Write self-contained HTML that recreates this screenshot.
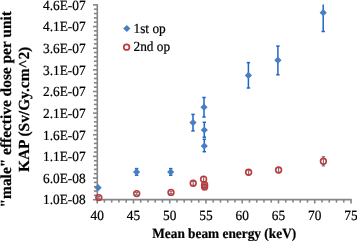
<!DOCTYPE html><html><head><meta charset="utf-8"><style>html,body{margin:0;padding:0;background:#fff;width:357px;height:241px;overflow:hidden}svg{display:block;will-change:transform}text{font-family:"Liberation Serif",serif;text-rendering:geometricPrecision;stroke:#000;stroke-width:0.2px}</style></head><body>
<svg width="357" height="241" viewBox="0 0 357 241">
<rect width="357" height="241" fill="#fff"/>
<g font-weight="bold" font-size="15.4" fill="#000" text-anchor="middle">
<text transform="translate(11.1,109.3) rotate(-90)">"male" effective dose per unit</text>
<text transform="translate(28.9,109.4) rotate(-90)">KAP (Sv/Gy.cm^2)</text>
</g>
<g font-size="13.33" fill="#000" text-anchor="end">
<text transform="translate(85.6,9.65) scale(1,1.05)">4.6E-07</text>
<text transform="translate(85.6,31.29) scale(1,1.05)">4.1E-07</text>
<text transform="translate(85.6,52.94) scale(1,1.05)">3.6E-07</text>
<text transform="translate(85.6,74.58) scale(1,1.05)">3.1E-07</text>
<text transform="translate(85.6,96.23) scale(1,1.05)">2.6E-07</text>
<text transform="translate(85.6,117.87) scale(1,1.05)">2.1E-07</text>
<text transform="translate(85.6,139.52) scale(1,1.05)">1.6E-07</text>
<text transform="translate(85.6,161.16) scale(1,1.05)">1.1E-07</text>
<text transform="translate(85.6,182.81) scale(1,1.05)">6.0E-08</text>
<text transform="translate(85.6,204.45) scale(1,1.05)">1.0E-08</text>
</g>
<g font-size="13.33" fill="#000" text-anchor="middle">
<text transform="translate(97.20,220.4) scale(1,1.05)">40</text>
<text transform="translate(133.46,220.4) scale(1,1.05)">45</text>
<text transform="translate(169.71,220.4) scale(1,1.05)">50</text>
<text transform="translate(205.97,220.4) scale(1,1.05)">55</text>
<text transform="translate(242.23,220.4) scale(1,1.05)">60</text>
<text transform="translate(278.49,220.4) scale(1,1.05)">65</text>
<text transform="translate(314.74,220.4) scale(1,1.05)">70</text>
<text transform="translate(351.00,220.4) scale(1,1.05)">75</text>
</g>
<text transform="translate(224.2,238.1) scale(1,1.05)" font-size="13.33" font-weight="bold" text-anchor="middle" fill="#000">Mean beam energy (keV)</text>
<g stroke="#858585" stroke-width="1.6" fill="none">
<line x1="97.3" y1="4.20" x2="97.3" y2="200.30"/>
<line x1="96.60" y1="199.6" x2="351.70" y2="199.6"/>
<line x1="93.00" y1="199.70" x2="97.3" y2="199.70"/>
<line x1="93.90" y1="195.37" x2="97.3" y2="195.37"/>
<line x1="93.90" y1="191.04" x2="97.3" y2="191.04"/>
<line x1="93.90" y1="186.71" x2="97.3" y2="186.71"/>
<line x1="93.90" y1="182.38" x2="97.3" y2="182.38"/>
<line x1="93.00" y1="178.06" x2="97.3" y2="178.06"/>
<line x1="93.90" y1="173.73" x2="97.3" y2="173.73"/>
<line x1="93.90" y1="169.40" x2="97.3" y2="169.40"/>
<line x1="93.90" y1="165.07" x2="97.3" y2="165.07"/>
<line x1="93.90" y1="160.74" x2="97.3" y2="160.74"/>
<line x1="93.00" y1="156.41" x2="97.3" y2="156.41"/>
<line x1="93.90" y1="152.08" x2="97.3" y2="152.08"/>
<line x1="93.90" y1="147.75" x2="97.3" y2="147.75"/>
<line x1="93.90" y1="143.42" x2="97.3" y2="143.42"/>
<line x1="93.90" y1="139.10" x2="97.3" y2="139.10"/>
<line x1="93.00" y1="134.77" x2="97.3" y2="134.77"/>
<line x1="93.90" y1="130.44" x2="97.3" y2="130.44"/>
<line x1="93.90" y1="126.11" x2="97.3" y2="126.11"/>
<line x1="93.90" y1="121.78" x2="97.3" y2="121.78"/>
<line x1="93.90" y1="117.45" x2="97.3" y2="117.45"/>
<line x1="93.00" y1="113.12" x2="97.3" y2="113.12"/>
<line x1="93.90" y1="108.79" x2="97.3" y2="108.79"/>
<line x1="93.90" y1="104.46" x2="97.3" y2="104.46"/>
<line x1="93.90" y1="100.14" x2="97.3" y2="100.14"/>
<line x1="93.90" y1="95.81" x2="97.3" y2="95.81"/>
<line x1="93.00" y1="91.48" x2="97.3" y2="91.48"/>
<line x1="93.90" y1="87.15" x2="97.3" y2="87.15"/>
<line x1="93.90" y1="82.82" x2="97.3" y2="82.82"/>
<line x1="93.90" y1="78.49" x2="97.3" y2="78.49"/>
<line x1="93.90" y1="74.16" x2="97.3" y2="74.16"/>
<line x1="93.00" y1="69.83" x2="97.3" y2="69.83"/>
<line x1="93.90" y1="65.50" x2="97.3" y2="65.50"/>
<line x1="93.90" y1="61.18" x2="97.3" y2="61.18"/>
<line x1="93.90" y1="56.85" x2="97.3" y2="56.85"/>
<line x1="93.90" y1="52.52" x2="97.3" y2="52.52"/>
<line x1="93.00" y1="48.19" x2="97.3" y2="48.19"/>
<line x1="93.90" y1="43.86" x2="97.3" y2="43.86"/>
<line x1="93.90" y1="39.53" x2="97.3" y2="39.53"/>
<line x1="93.90" y1="35.20" x2="97.3" y2="35.20"/>
<line x1="93.90" y1="30.87" x2="97.3" y2="30.87"/>
<line x1="93.00" y1="26.54" x2="97.3" y2="26.54"/>
<line x1="93.90" y1="22.22" x2="97.3" y2="22.22"/>
<line x1="93.90" y1="17.89" x2="97.3" y2="17.89"/>
<line x1="93.90" y1="13.56" x2="97.3" y2="13.56"/>
<line x1="93.90" y1="9.23" x2="97.3" y2="9.23"/>
<line x1="93.00" y1="4.90" x2="97.3" y2="4.90"/>
<line x1="97.20" y1="199.6" x2="97.20" y2="203.40"/>
<line x1="104.45" y1="199.6" x2="104.45" y2="202.60"/>
<line x1="111.70" y1="199.6" x2="111.70" y2="202.60"/>
<line x1="118.95" y1="199.6" x2="118.95" y2="202.60"/>
<line x1="126.21" y1="199.6" x2="126.21" y2="202.60"/>
<line x1="133.46" y1="199.6" x2="133.46" y2="203.40"/>
<line x1="140.71" y1="199.6" x2="140.71" y2="202.60"/>
<line x1="147.96" y1="199.6" x2="147.96" y2="202.60"/>
<line x1="155.21" y1="199.6" x2="155.21" y2="202.60"/>
<line x1="162.46" y1="199.6" x2="162.46" y2="202.60"/>
<line x1="169.71" y1="199.6" x2="169.71" y2="203.40"/>
<line x1="176.97" y1="199.6" x2="176.97" y2="202.60"/>
<line x1="184.22" y1="199.6" x2="184.22" y2="202.60"/>
<line x1="191.47" y1="199.6" x2="191.47" y2="202.60"/>
<line x1="198.72" y1="199.6" x2="198.72" y2="202.60"/>
<line x1="205.97" y1="199.6" x2="205.97" y2="203.40"/>
<line x1="213.22" y1="199.6" x2="213.22" y2="202.60"/>
<line x1="220.47" y1="199.6" x2="220.47" y2="202.60"/>
<line x1="227.73" y1="199.6" x2="227.73" y2="202.60"/>
<line x1="234.98" y1="199.6" x2="234.98" y2="202.60"/>
<line x1="242.23" y1="199.6" x2="242.23" y2="203.40"/>
<line x1="249.48" y1="199.6" x2="249.48" y2="202.60"/>
<line x1="256.73" y1="199.6" x2="256.73" y2="202.60"/>
<line x1="263.98" y1="199.6" x2="263.98" y2="202.60"/>
<line x1="271.23" y1="199.6" x2="271.23" y2="202.60"/>
<line x1="278.49" y1="199.6" x2="278.49" y2="203.40"/>
<line x1="285.74" y1="199.6" x2="285.74" y2="202.60"/>
<line x1="292.99" y1="199.6" x2="292.99" y2="202.60"/>
<line x1="300.24" y1="199.6" x2="300.24" y2="202.60"/>
<line x1="307.49" y1="199.6" x2="307.49" y2="202.60"/>
<line x1="314.74" y1="199.6" x2="314.74" y2="203.40"/>
<line x1="321.99" y1="199.6" x2="321.99" y2="202.60"/>
<line x1="329.25" y1="199.6" x2="329.25" y2="202.60"/>
<line x1="336.50" y1="199.6" x2="336.50" y2="202.60"/>
<line x1="343.75" y1="199.6" x2="343.75" y2="202.60"/>
<line x1="351.00" y1="199.6" x2="351.00" y2="203.40"/>
</g>
<g stroke="#6f7a86" stroke-width="1.2" fill="none">
<line x1="98.8" y1="196.40" x2="98.8" y2="198.80"/>
<line x1="97.10" y1="196.40" x2="100.50" y2="196.40"/>
<line x1="97.10" y1="198.80" x2="100.50" y2="198.80"/>
<line x1="136.7" y1="192.40" x2="136.7" y2="194.80"/>
<line x1="135.00" y1="192.40" x2="138.40" y2="192.40"/>
<line x1="135.00" y1="194.80" x2="138.40" y2="194.80"/>
<line x1="171.0" y1="191.20" x2="171.0" y2="193.60"/>
<line x1="169.30" y1="191.20" x2="172.70" y2="191.20"/>
<line x1="169.30" y1="193.60" x2="172.70" y2="193.60"/>
<line x1="193.2" y1="181.30" x2="193.2" y2="185.30"/>
<line x1="191.50" y1="181.30" x2="194.90" y2="181.30"/>
<line x1="191.50" y1="185.30" x2="194.90" y2="185.30"/>
<line x1="203.6" y1="176.70" x2="203.6" y2="181.70"/>
<line x1="201.90" y1="176.70" x2="205.30" y2="176.70"/>
<line x1="201.90" y1="181.70" x2="205.30" y2="181.70"/>
<line x1="204.6" y1="183.80" x2="204.6" y2="185.80"/>
<line x1="202.90" y1="183.80" x2="206.30" y2="183.80"/>
<line x1="202.90" y1="185.80" x2="206.30" y2="185.80"/>
<line x1="204.6" y1="185.70" x2="204.6" y2="188.50"/>
<line x1="202.90" y1="185.70" x2="206.30" y2="185.70"/>
<line x1="202.90" y1="188.50" x2="206.30" y2="188.50"/>
<line x1="248.6" y1="170.00" x2="248.6" y2="174.60"/>
<line x1="246.90" y1="170.00" x2="250.30" y2="170.00"/>
<line x1="246.90" y1="174.60" x2="250.30" y2="174.60"/>
<line x1="278.6" y1="167.50" x2="278.6" y2="172.50"/>
<line x1="276.90" y1="167.50" x2="280.30" y2="167.50"/>
<line x1="276.90" y1="172.50" x2="280.30" y2="172.50"/>
<line x1="323.4" y1="156.70" x2="323.4" y2="165.90"/>
<line x1="321.70" y1="156.70" x2="325.10" y2="156.70"/>
<line x1="321.70" y1="165.90" x2="325.10" y2="165.90"/>
</g>
<g stroke="#c0393b" stroke-width="1.6" fill="none">
<circle cx="98.8" cy="197.6" r="2.9"/>
<circle cx="136.7" cy="193.6" r="2.9"/>
<circle cx="171.0" cy="192.4" r="2.9"/>
<circle cx="193.2" cy="183.3" r="2.9"/>
<circle cx="203.6" cy="179.2" r="2.9"/>
<circle cx="204.6" cy="184.8" r="2.9"/>
<circle cx="204.6" cy="187.1" r="2.9"/>
<circle cx="248.6" cy="172.3" r="2.9"/>
<circle cx="278.6" cy="170.0" r="2.9"/>
<circle cx="323.4" cy="161.3" r="2.9"/>
</g>
<g stroke="#1f66c4" stroke-width="1.5" fill="none">
<line x1="136.6" y1="168.6" x2="136.6" y2="175.2"/>
<line x1="134.90" y1="168.6" x2="138.30" y2="168.6"/>
<line x1="134.90" y1="175.2" x2="138.30" y2="175.2"/>
<line x1="170.7" y1="168.6" x2="170.7" y2="175.2"/>
<line x1="169.00" y1="168.6" x2="172.40" y2="168.6"/>
<line x1="169.00" y1="175.2" x2="172.40" y2="175.2"/>
<line x1="193.0" y1="114.4" x2="193.0" y2="130.9"/>
<line x1="191.30" y1="114.4" x2="194.70" y2="114.4"/>
<line x1="191.30" y1="130.9" x2="194.70" y2="130.9"/>
<line x1="204.0" y1="97.5" x2="204.0" y2="117.0"/>
<line x1="202.30" y1="97.5" x2="205.70" y2="97.5"/>
<line x1="202.30" y1="117.0" x2="205.70" y2="117.0"/>
<line x1="204.3" y1="122.3" x2="204.3" y2="137.2"/>
<line x1="202.60" y1="122.3" x2="206.00" y2="122.3"/>
<line x1="202.60" y1="137.2" x2="206.00" y2="137.2"/>
<line x1="204.3" y1="139.3" x2="204.3" y2="151.7"/>
<line x1="202.60" y1="139.3" x2="206.00" y2="139.3"/>
<line x1="202.60" y1="151.7" x2="206.00" y2="151.7"/>
<line x1="248.4" y1="62.6" x2="248.4" y2="88.0"/>
<line x1="246.70" y1="62.6" x2="250.10" y2="62.6"/>
<line x1="246.70" y1="88.0" x2="250.10" y2="88.0"/>
<line x1="277.9" y1="46.1" x2="277.9" y2="74.8"/>
<line x1="276.20" y1="46.1" x2="279.60" y2="46.1"/>
<line x1="276.20" y1="74.8" x2="279.60" y2="74.8"/>
<line x1="323.2" y1="4.6" x2="323.2" y2="31.5"/>
<line x1="321.50" y1="31.5" x2="324.90" y2="31.5"/>
</g>
<g fill="#4a7ec2">
<path d="M94.50 187.70L98.10 184.10L101.70 187.70L98.10 191.30Z"/>
<path d="M133.00 171.90L136.60 168.30L140.20 171.90L136.60 175.50Z"/>
<path d="M167.10 172.00L170.70 168.40L174.30 172.00L170.70 175.60Z"/>
<path d="M189.40 122.60L193.00 119.00L196.60 122.60L193.00 126.20Z"/>
<path d="M200.40 107.20L204.00 103.60L207.60 107.20L204.00 110.80Z"/>
<path d="M200.70 130.00L204.30 126.40L207.90 130.00L204.30 133.60Z"/>
<path d="M200.70 146.00L204.30 142.40L207.90 146.00L204.30 149.60Z"/>
<path d="M244.80 75.40L248.40 71.80L252.00 75.40L248.40 79.00Z"/>
<path d="M274.30 60.20L277.90 56.60L281.50 60.20L277.90 63.80Z"/>
<path d="M319.60 12.70L323.20 9.10L326.80 12.70L323.20 16.30Z"/>
</g>
<path d="M123.20 28.5L126.8 24.90L130.40 28.5L126.8 32.10Z" fill="#4a7ec2"/>
<circle cx="126.6" cy="47.15" r="2.8" stroke="#c0393b" stroke-width="1.7" fill="none"/>
<g font-size="13.33" fill="#000">
<text transform="translate(133.5,32.5) scale(1,1.05)">1st op</text>
<text transform="translate(133.5,51.1) scale(1,1.05)">2nd op</text>
</g>
</svg></body></html>
